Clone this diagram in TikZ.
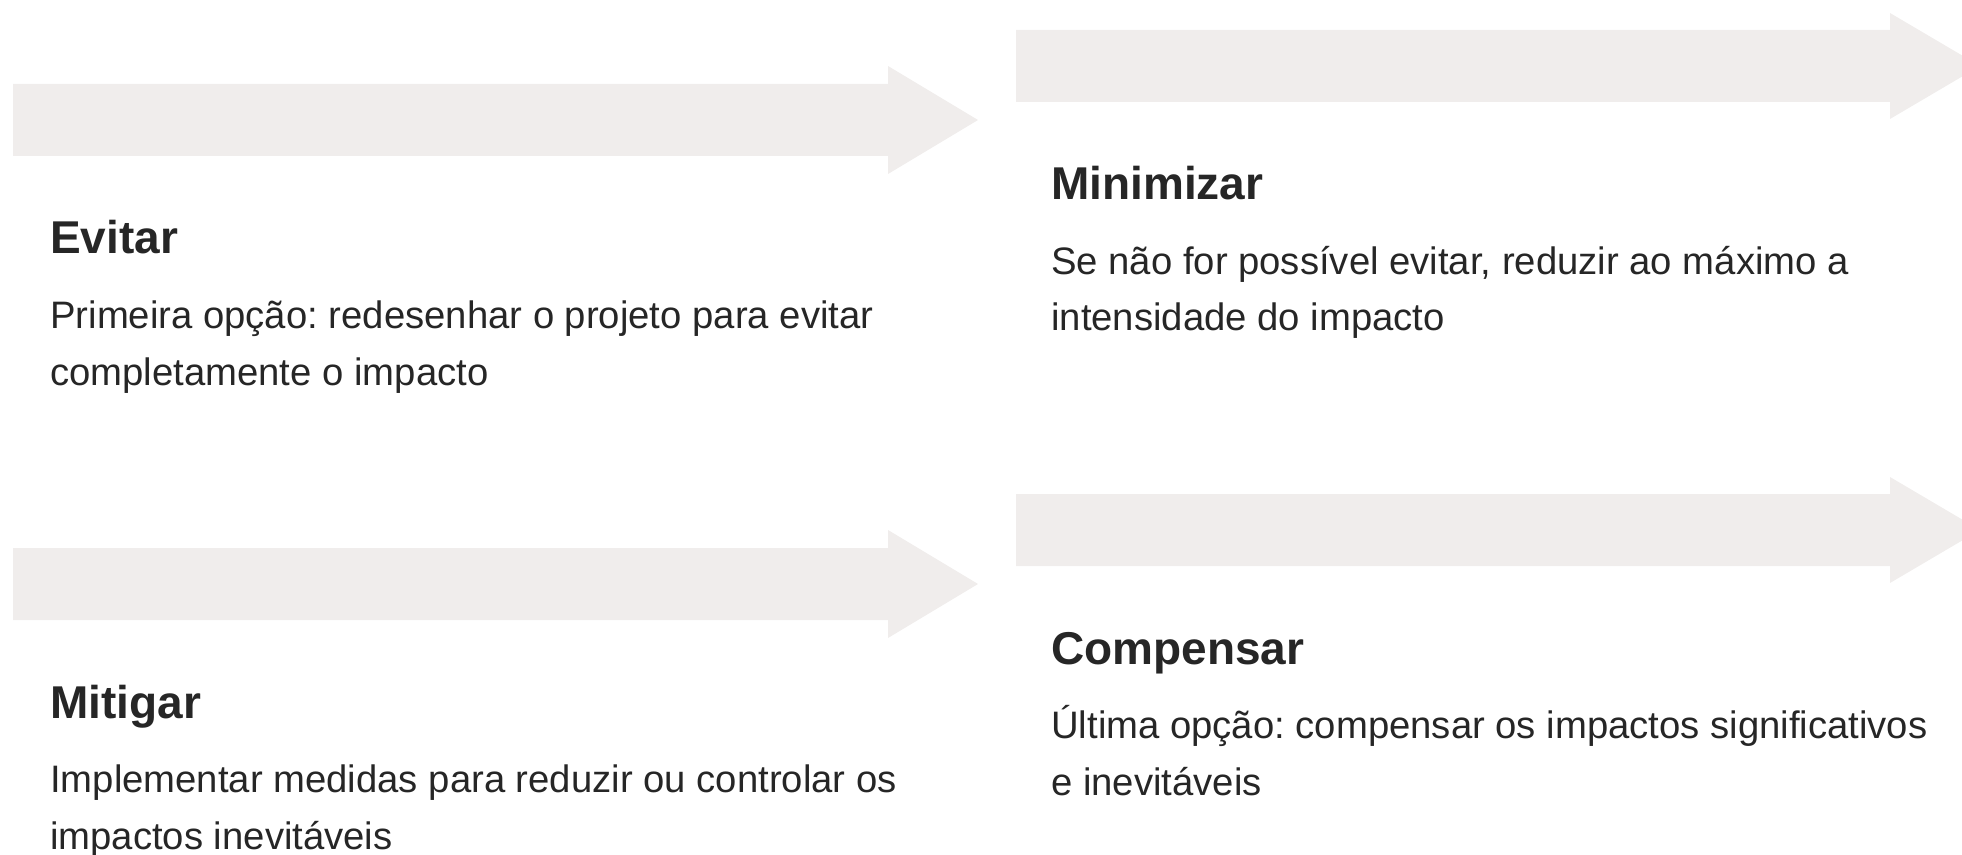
\documentclass[tikz,border=0pt]{standalone}
\usepackage{fontspec}
\setmainfont{Liberation Sans}
\usepackage{xcolor}
\usepackage{tikz}
\definecolor{mist}{RGB}{240, 237, 236}
\definecolor{ink}{RGB}{38, 38, 38}
\frenchspacing

\begin{document}
\begin{tikzpicture}[x=0.75pt,y=-0.75pt,
    heading/.style={anchor=base west,inner sep=0pt,text=ink,font=\fontsize{34.5}{40}\selectfont\bfseries},
    blurb/.style={anchor=base west,inner sep=0pt,text=ink,align=left,font=\fontsize{28.7}{42.75}\selectfont}]
    \useasboundingbox (0,0) rectangle (1962,855);
    \clip (0,0) rectangle (1962,855);

    % Evitar (blurb is placed by the baseline of its last line)
    \fill[mist] (13,84) -- (888,84) -- (888,66) -- (978,120) -- (888,174) -- (888,156) -- (13,156) -- cycle;
    \node[heading] (evitar) at (50,254) {Evitar};
    \node[blurb] (evitartxt) at (50,385) {Primeira opção: redesenhar o projeto para evitar\\completamente o impacto};

    % Minimizar
    \fill[mist] (1016,30) -- (1890,30) -- (1890,13) -- (1980,66) -- (1890,119) -- (1890,102) -- (1016,102) -- cycle;
    \node[heading] (minimizar) at (1051,200) {Minimizar};
    \node[blurb] (minimizartxt) at (1051,331) {Se não for possível evitar, reduzir ao máximo a\\intensidade do impacto};

    % Mitigar
    \fill[mist] (13,548) -- (888,548) -- (888,530) -- (978,584) -- (888,638) -- (888,620) -- (13,620) -- cycle;
    \node[heading] (mitigar) at (50,718) {Mitigar};
    \node[blurb] (mitigartxt) at (50,849) {Implementar medidas para reduzir ou controlar os\\impactos inevitáveis};

    % Compensar
    \fill[mist] (1016,494) -- (1890,494) -- (1890,477) -- (1980,530) -- (1890,583) -- (1890,566) -- (1016,566) -- cycle;
    \node[heading] (compensar) at (1051,664) {Compensar};
    \node[blurb] (compensartxt) at (1051,795) {Última opção: compensar os impactos significativos\\e inevitáveis};
\end{tikzpicture}
\end{document}
